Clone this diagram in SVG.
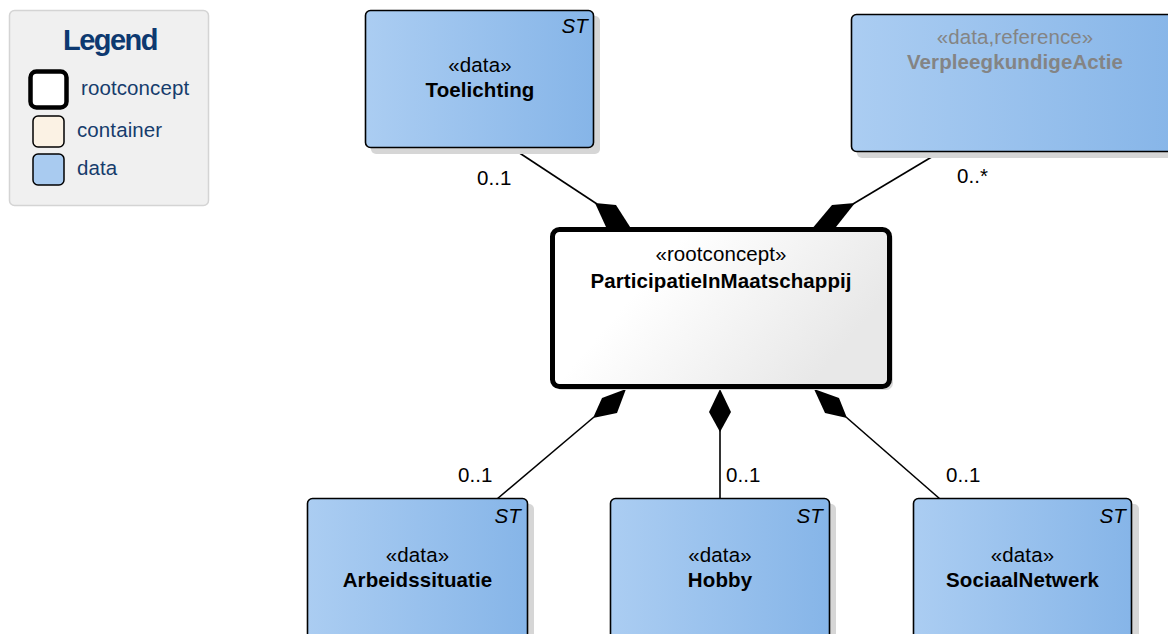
<svg xmlns="http://www.w3.org/2000/svg" width="1168" height="634" viewBox="0 0 1168 634">
  <defs>
    <linearGradient id="gData" x1="0" y1="0" x2="1" y2="0">
      <stop offset="0" stop-color="#abcdf2"/>
      <stop offset="1" stop-color="#86b5e8"/>
    </linearGradient>
    <linearGradient id="gRoot" x1="0" y1="0" x2="1" y2="0.4">
      <stop offset="0.35" stop-color="#ffffff"/>
      <stop offset="1" stop-color="#e8e8e8"/>
    </linearGradient>
    <style>
      text { font-family: "Liberation Sans", Arial, sans-serif; font-size: 20.5px; fill: #000; letter-spacing: 0.1px; }
      .c { text-anchor: middle; }
      .b { font-weight: bold; }
      .st { font-style: italic; text-anchor: end; }
      .gray { fill: #848484; }
      .leg { fill: #163c6c; }
      .box { fill: url(#gData); stroke: #000; stroke-width: 1.6; }
      .shadow { fill: #d6d6d6; }
      .line { stroke: #000; stroke-width: 1.6; fill: none; }
      .dia { fill: #000; stroke: none; }
      .mult { font-size: 20.5px; }
    </style>
  </defs>
  <rect width="1168" height="634" fill="#ffffff"/>

  <g id="legend">
    <rect x="9.5" y="10.5" width="199" height="195" rx="5" fill="#f0f0f0" stroke="#d4d4d4" stroke-width="1.5"/>
    <text x="110" y="50" class="c b" style="font-size:29px;letter-spacing:-1.5px;fill:#0d3970">Legend</text>
    <rect x="30.5" y="71.5" width="36" height="36" rx="6" fill="#ffffff" stroke="#000" stroke-width="4.5"/>
    <text x="81" y="95" class="leg">rootconcept</text>
    <rect x="33" y="116" width="31" height="31" rx="5" fill="#fbf2e4" stroke="#000" stroke-width="1.5"/>
    <text x="77" y="137" class="leg">container</text>
    <rect x="33" y="154" width="31" height="31" rx="5" fill="#a9cbf0" stroke="#000" stroke-width="1.5"/>
    <text x="77" y="175" class="leg">data</text>
  </g>

  <g id="connectors">
    <line class="line" x1="515" y1="150" x2="597" y2="204"/>
    <polygon class="dia" points="595,203 616,205 632,230 606,227"/>
    <text class="mult" x="477" y="185">0..1</text>

    <line class="line" x1="940" y1="152" x2="853" y2="204"/>
    <polygon class="dia" points="855,203 832,205 811,230 836,227"/>
    <text class="mult" x="957" y="183">0..*</text>

    <line class="line" x1="594" y1="417" x2="497" y2="499"/>
    <polygon class="dia" points="626,389 602,398 593,418 617,413"/>
    <text class="mult" x="458" y="482">0..1</text>

    <line class="line" x1="720" y1="430" x2="720" y2="499"/>
    <polygon class="dia" points="720,389 709,412 720,432 731,412"/>
    <text class="mult" x="726" y="482">0..1</text>

    <line class="line" x1="846" y1="417" x2="940" y2="499"/>
    <polygon class="dia" points="814,389 839,398 847,418 825,413"/>
    <text class="mult" x="946" y="482">0..1</text>
  </g>

  <g id="Toelichting">
    <rect class="shadow" x="371" y="16" width="229" height="138" rx="5"/>
    <rect class="box" x="365.5" y="10.5" width="228" height="137" rx="5"/>
    <text x="588" y="33" class="st">ST</text>
    <text x="480" y="72" class="c">«data»</text>
    <text x="480" y="97" class="c b">Toelichting</text>
  </g>

  <g id="VerpleegkundigeActie">
    <rect class="shadow" x="857" y="20" width="330" height="138" rx="5"/>
    <rect class="box" x="851.5" y="14.5" width="330" height="137" rx="5"/>
    <text x="1015" y="44" class="c gray">«data,reference»</text>
    <text x="1015" y="69" class="c b gray">VerpleegkundigeActie</text>
  </g>

  <g id="ParticipatieInMaatschappij">
    <rect x="555" y="232" width="338" height="158" rx="7" fill="#d8d8d8"/>
    <rect x="552.5" y="229.5" width="337" height="157" rx="7" fill="url(#gRoot)" stroke="#000" stroke-width="5"/>
    <text x="721" y="261" class="c">«rootconcept»</text>
    <text x="721" y="288" class="c b">ParticipatieInMaatschappij</text>
  </g>

  <g id="Arbeidssituatie">
    <rect class="shadow" x="314" y="504" width="220" height="140" rx="5"/>
    <rect class="box" x="307.5" y="498.5" width="220" height="140" rx="5"/>
    <text x="521" y="523" class="st">ST</text>
    <text x="417.5" y="562" class="c">«data»</text>
    <text x="417.5" y="587" class="c b">Arbeidssituatie</text>
  </g>

  <g id="Hobby">
    <rect class="shadow" x="616" y="504" width="220" height="140" rx="5"/>
    <rect class="box" x="610.5" y="498.5" width="219" height="140" rx="5"/>
    <text x="823" y="523" class="st">ST</text>
    <text x="720" y="562" class="c">«data»</text>
    <text x="720" y="587" class="c b">Hobby</text>
  </g>

  <g id="SociaalNetwerk">
    <rect class="shadow" x="919" y="504" width="220" height="140" rx="5"/>
    <rect class="box" x="913.5" y="498.5" width="218" height="140" rx="5"/>
    <text x="1126" y="523" class="st">ST</text>
    <text x="1022.5" y="562" class="c">«data»</text>
    <text x="1022.5" y="587" class="c b">SociaalNetwerk</text>
  </g>
</svg>
